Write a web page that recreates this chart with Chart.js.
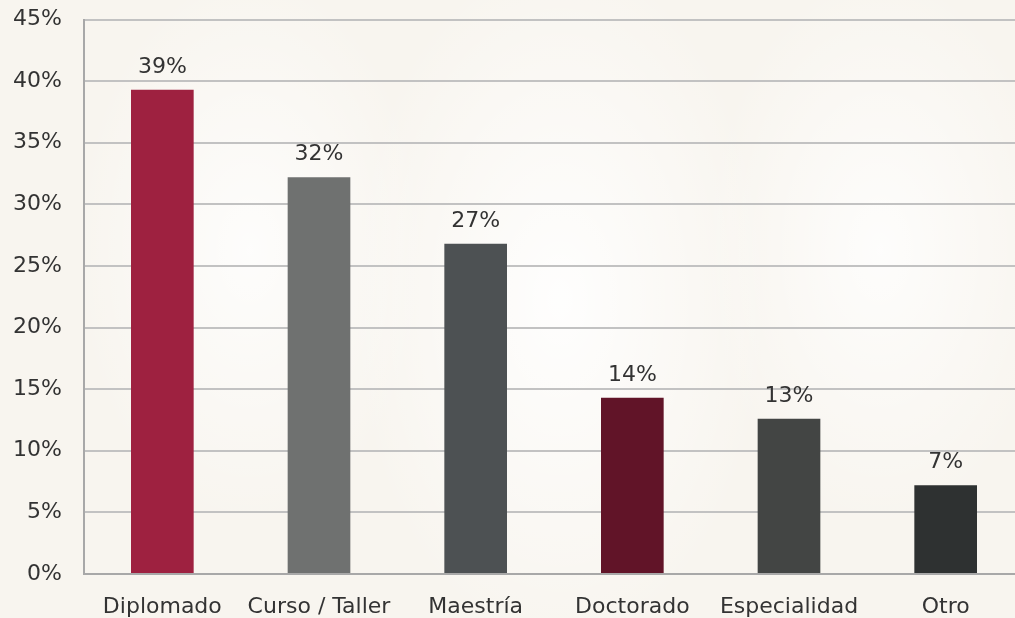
<!DOCTYPE html>
<html>
<head>
<meta charset="utf-8">
<script src="https://cdn.jsdelivr.net/npm/chart.js@4"></script>
<style>
  html, body { margin: 0; padding: 0; width: 1015px; height: 618px; overflow: hidden;
    background: #f9f6f1; }
  #wrap { position: absolute; left: 0; top: 0; width: 1032px; height: 618px;
    background:
      radial-gradient(ellipse 300px 500px at 560px 300px, rgba(255,255,255,0.9), rgba(255,255,255,0) 70%),
      radial-gradient(ellipse 250px 400px at 250px 250px, rgba(255,255,255,0.8), rgba(255,255,255,0) 70%),
      radial-gradient(ellipse 250px 400px at 880px 250px, rgba(255,255,255,0.8), rgba(255,255,255,0) 70%),
      #f8f5ef; }
  canvas { display: block; }
</style>
</head>
<body>
<div id="wrap"><canvas id="c" width="1032" height="618"></canvas></div>
<script>
const categories = ["Diplomado", "Curso / Taller", "Maestría", "Doctorado", "Especialidad", "Otro"];
const values = [39.3, 32.2, 26.8, 14.3, 12.6, 7.2];
const valueLabels = ["39%", "32%", "27%", "14%", "13%", "7%"];
const barColors = ["#9e2140", "#6f7170", "#4d5153", "#611428", "#434544", "#2e3131"];
const yTicks = [0, 5, 10, 15, 20, 25, 30, 35, 40, 45];

const FONT = "'DejaVu Sans', sans-serif";
const TEXT = "#333333";
const FSIZE = 22;

const labelPlugin = {
  id: 'valueLabels',
  afterDatasetsDraw(chart) {
    const ctx = chart.ctx;
    const meta = chart.getDatasetMeta(0);
    ctx.save();
    ctx.font = FSIZE + "px " + FONT;
    ctx.fillStyle = TEXT;
    ctx.textAlign = 'center';
    ctx.textBaseline = 'alphabetic';
    meta.data.forEach((bar, i) => {
      ctx.fillText(valueLabels[i], bar.x, bar.y - 17);
    });
    ctx.restore();
  }
};

new Chart(document.getElementById('c'), {
  type: 'bar',
  data: {
    labels: categories,
    datasets: [{
      data: values,
      backgroundColor: barColors,
      borderWidth: 0,
      barPercentage: 0.4,
      categoryPercentage: 1.0
    }]
  },
  options: {
    responsive: false,
    animation: false,
    layout: { padding: { top: 19.5, right: 8, left: 0, bottom: 0 } },
    plugins: { legend: { display: false }, tooltip: { enabled: false } },
    scales: {
      x: {
        grid: { display: false },
        border: { display: true, color: '#a8a8a8', width: 2 },
        ticks: { color: TEXT, font: { family: FONT, size: FSIZE }, padding: 12, maxRotation: 0, autoSkip: false },
        afterFit(scale) { scale.height = 44; scale.paddingLeft = 0; scale.paddingRight = 0; }
      },
      y: {
        min: 0, max: 45,
        afterBuildTicks(scale) { scale.ticks = yTicks.map(v => ({ value: v })); },
        grid: { color: '#c2c2c2', lineWidth: 2, drawTicks: false },
        border: { display: true, color: '#a8a8a8', width: 2 },
        ticks: { color: TEXT, font: { family: FONT, size: FSIZE }, padding: 22,
          callback: v => v + '%' },
        afterFit(scale) { scale.width = 84; scale.paddingTop = 0; scale.paddingBottom = 0; }
      }
    }
  },
  plugins: [labelPlugin]
});
</script>
</body>
</html>
